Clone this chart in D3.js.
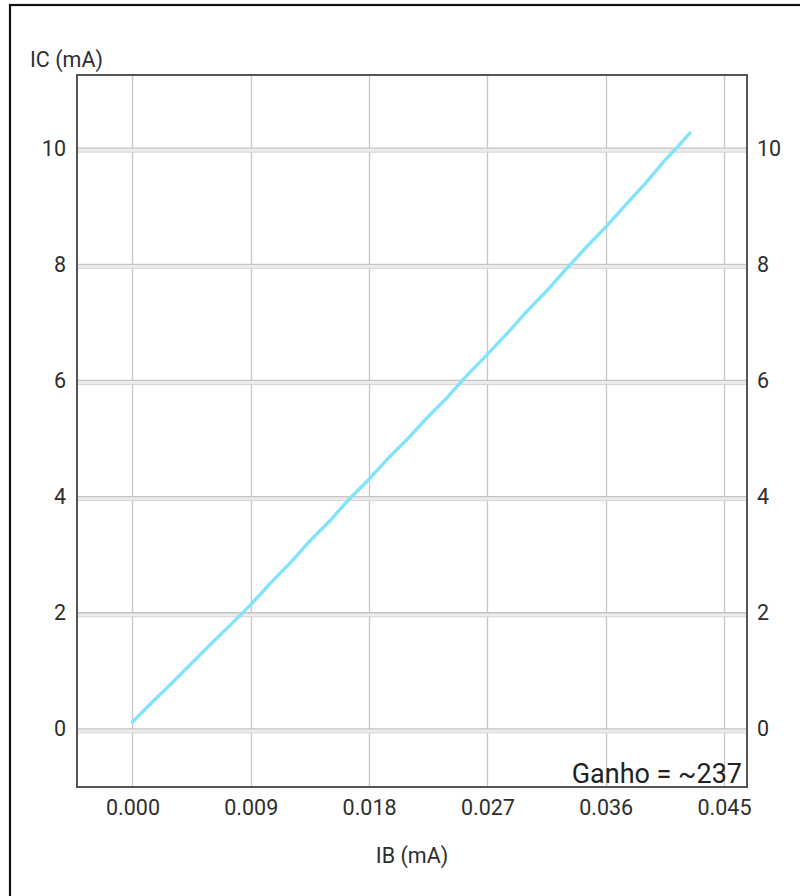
<!DOCTYPE html>
<html>
<head>
<meta charset="utf-8">
<script src="https://cdn.jsdelivr.net/npm/d3@7"></script>
<style>
  html, body { margin: 0; padding: 0; background: #fff; }
  svg { display: block; font-family: Roboto, "Noto Sans", sans-serif; }
</style>
</head>
<body>
<svg id="chart" width="800" height="896"></svg>
<script>
// Base current IB (mA) vs collector current IC (mA)
const ib = [0.0000, 0.0015, 0.0030, 0.0045, 0.0060, 0.0075, 0.0090, 0.0105, 0.0120, 0.0135,
            0.0150, 0.0165, 0.0180, 0.0195, 0.0210, 0.0225, 0.0240, 0.0255, 0.0270, 0.0285,
            0.0300, 0.0315, 0.0330, 0.0345, 0.0360, 0.0375, 0.0390, 0.0405, 0.0415, 0.0424];
const ic = [0.12, 0.46, 0.79, 1.13, 1.47, 1.80, 2.14, 2.51, 2.86, 3.24,
            3.58, 3.96, 4.30, 4.67, 5.01, 5.38, 5.72, 6.10, 6.45, 6.81,
            7.19, 7.54, 7.92, 8.29, 8.64, 9.02, 9.39, 9.79, 10.03, 10.26];

const xTicks = [0.000, 0.009, 0.018, 0.027, 0.036, 0.045];
const yTicks = [0, 2, 4, 6, 8, 10];
const xLabel = "IB (mA)";
const yLabel = "IC (mA)";
const gainText = "Ganho = ~237";

const svg = d3.select("#chart");
const plot = { left: 77, top: 75, right: 747, bottom: 787 };

const x = d3.scaleLinear().domain([-0.00422, 0.04675]).range([plot.left, plot.right]);
const y = d3.scaleLinear().domain([-1.0, 11.26]).range([plot.bottom, plot.top]);

// outer frame
svg.append("rect")
  .attr("x", 10).attr("y", 5).attr("width", 1000).attr("height", 1000)
  .attr("fill", "none").attr("stroke", "#111").attr("stroke-width", 2.2);

// gridlines
const grid = svg.append("g");
grid.selectAll("line.v").data(xTicks).join("line")
  .attr("class", "v")
  .attr("x1", d => Math.round(x(d)) + 0.5).attr("x2", d => Math.round(x(d)) + 0.5)
  .attr("y1", plot.top).attr("y2", plot.bottom)
  .attr("stroke", "#c6c6c6").attr("stroke-width", 1.3);
// horizontal gridlines are drawn as a soft double band
grid.selectAll("line.hb").data(yTicks).join("line")
  .attr("class", "hb")
  .attr("x1", plot.left).attr("x2", plot.right)
  .attr("y1", d => y(d) + 2).attr("y2", d => y(d) + 2)
  .attr("stroke", "#ececec").attr("stroke-width", 4);
grid.selectAll("line.h1").data(yTicks).join("line")
  .attr("class", "h1")
  .attr("x1", plot.left).attr("x2", plot.right)
  .attr("y1", d => y(d)).attr("y2", d => y(d))
  .attr("stroke", "#c4c4c4").attr("stroke-width", 1.3);
grid.selectAll("line.h2").data(yTicks).join("line")
  .attr("class", "h2")
  .attr("x1", plot.left).attr("x2", plot.right)
  .attr("y1", d => y(d) + 4).attr("y2", d => y(d) + 4)
  .attr("stroke", "#d6d6d6").attr("stroke-width", 1);

// data line
const pts = ib.map((v, i) => [v, ic[i]]);
svg.append("path")
  .datum(pts)
  .attr("fill", "none")
  .attr("stroke", "#82e3fb")
  .attr("stroke-width", 3.4)
  .attr("stroke-linecap", "round")
  .attr("stroke-linejoin", "round")
  .attr("d", d3.line().x(d => x(d[0])).y(d => y(d[1])));

// plot border
svg.append("rect")
  .attr("x", plot.left).attr("y", plot.top)
  .attr("width", plot.right - plot.left).attr("height", plot.bottom - plot.top)
  .attr("fill", "none").attr("stroke", "#555").attr("stroke-width", 2);

// axes
const fmt = d3.format(".3f");
const styleAxis = g => {
  g.select(".domain").remove();
  g.selectAll(".tick line").remove();
  g.selectAll("text").attr("fill", "#2e2e2e").style("font-size", "21.5px")
    .style("font-family", "Roboto, sans-serif");
};
svg.append("g")
  .attr("transform", `translate(0,${plot.bottom})`)
  .call(d3.axisBottom(x).tickValues(xTicks).tickFormat(fmt).tickSize(0).tickPadding(13))
  .call(styleAxis);
svg.append("g")
  .attr("transform", `translate(${plot.left},0)`)
  .call(d3.axisLeft(y).tickValues(yTicks).tickSize(0).tickPadding(11))
  .call(styleAxis);
svg.append("g")
  .attr("transform", `translate(${plot.right},0)`)
  .call(d3.axisRight(y).tickValues(yTicks).tickSize(0).tickPadding(10))
  .call(styleAxis);

// axis titles
svg.append("text")
  .attr("x", 30).attr("y", 67)
  .attr("fill", "#2e2e2e").style("font-size", "21.5px")
  .text(yLabel);
svg.append("text")
  .attr("x", (plot.left + plot.right) / 2).attr("y", 863)
  .attr("text-anchor", "middle")
  .attr("fill", "#2e2e2e").style("font-size", "21.5px")
  .text(xLabel);

// gain annotation
svg.append("text")
  .attr("x", plot.right - 5).attr("y", plot.bottom - 4)
  .attr("text-anchor", "end")
  .attr("fill", "#222").style("font-size", "27px")
  .text(gainText);
</script>
</body>
</html>
